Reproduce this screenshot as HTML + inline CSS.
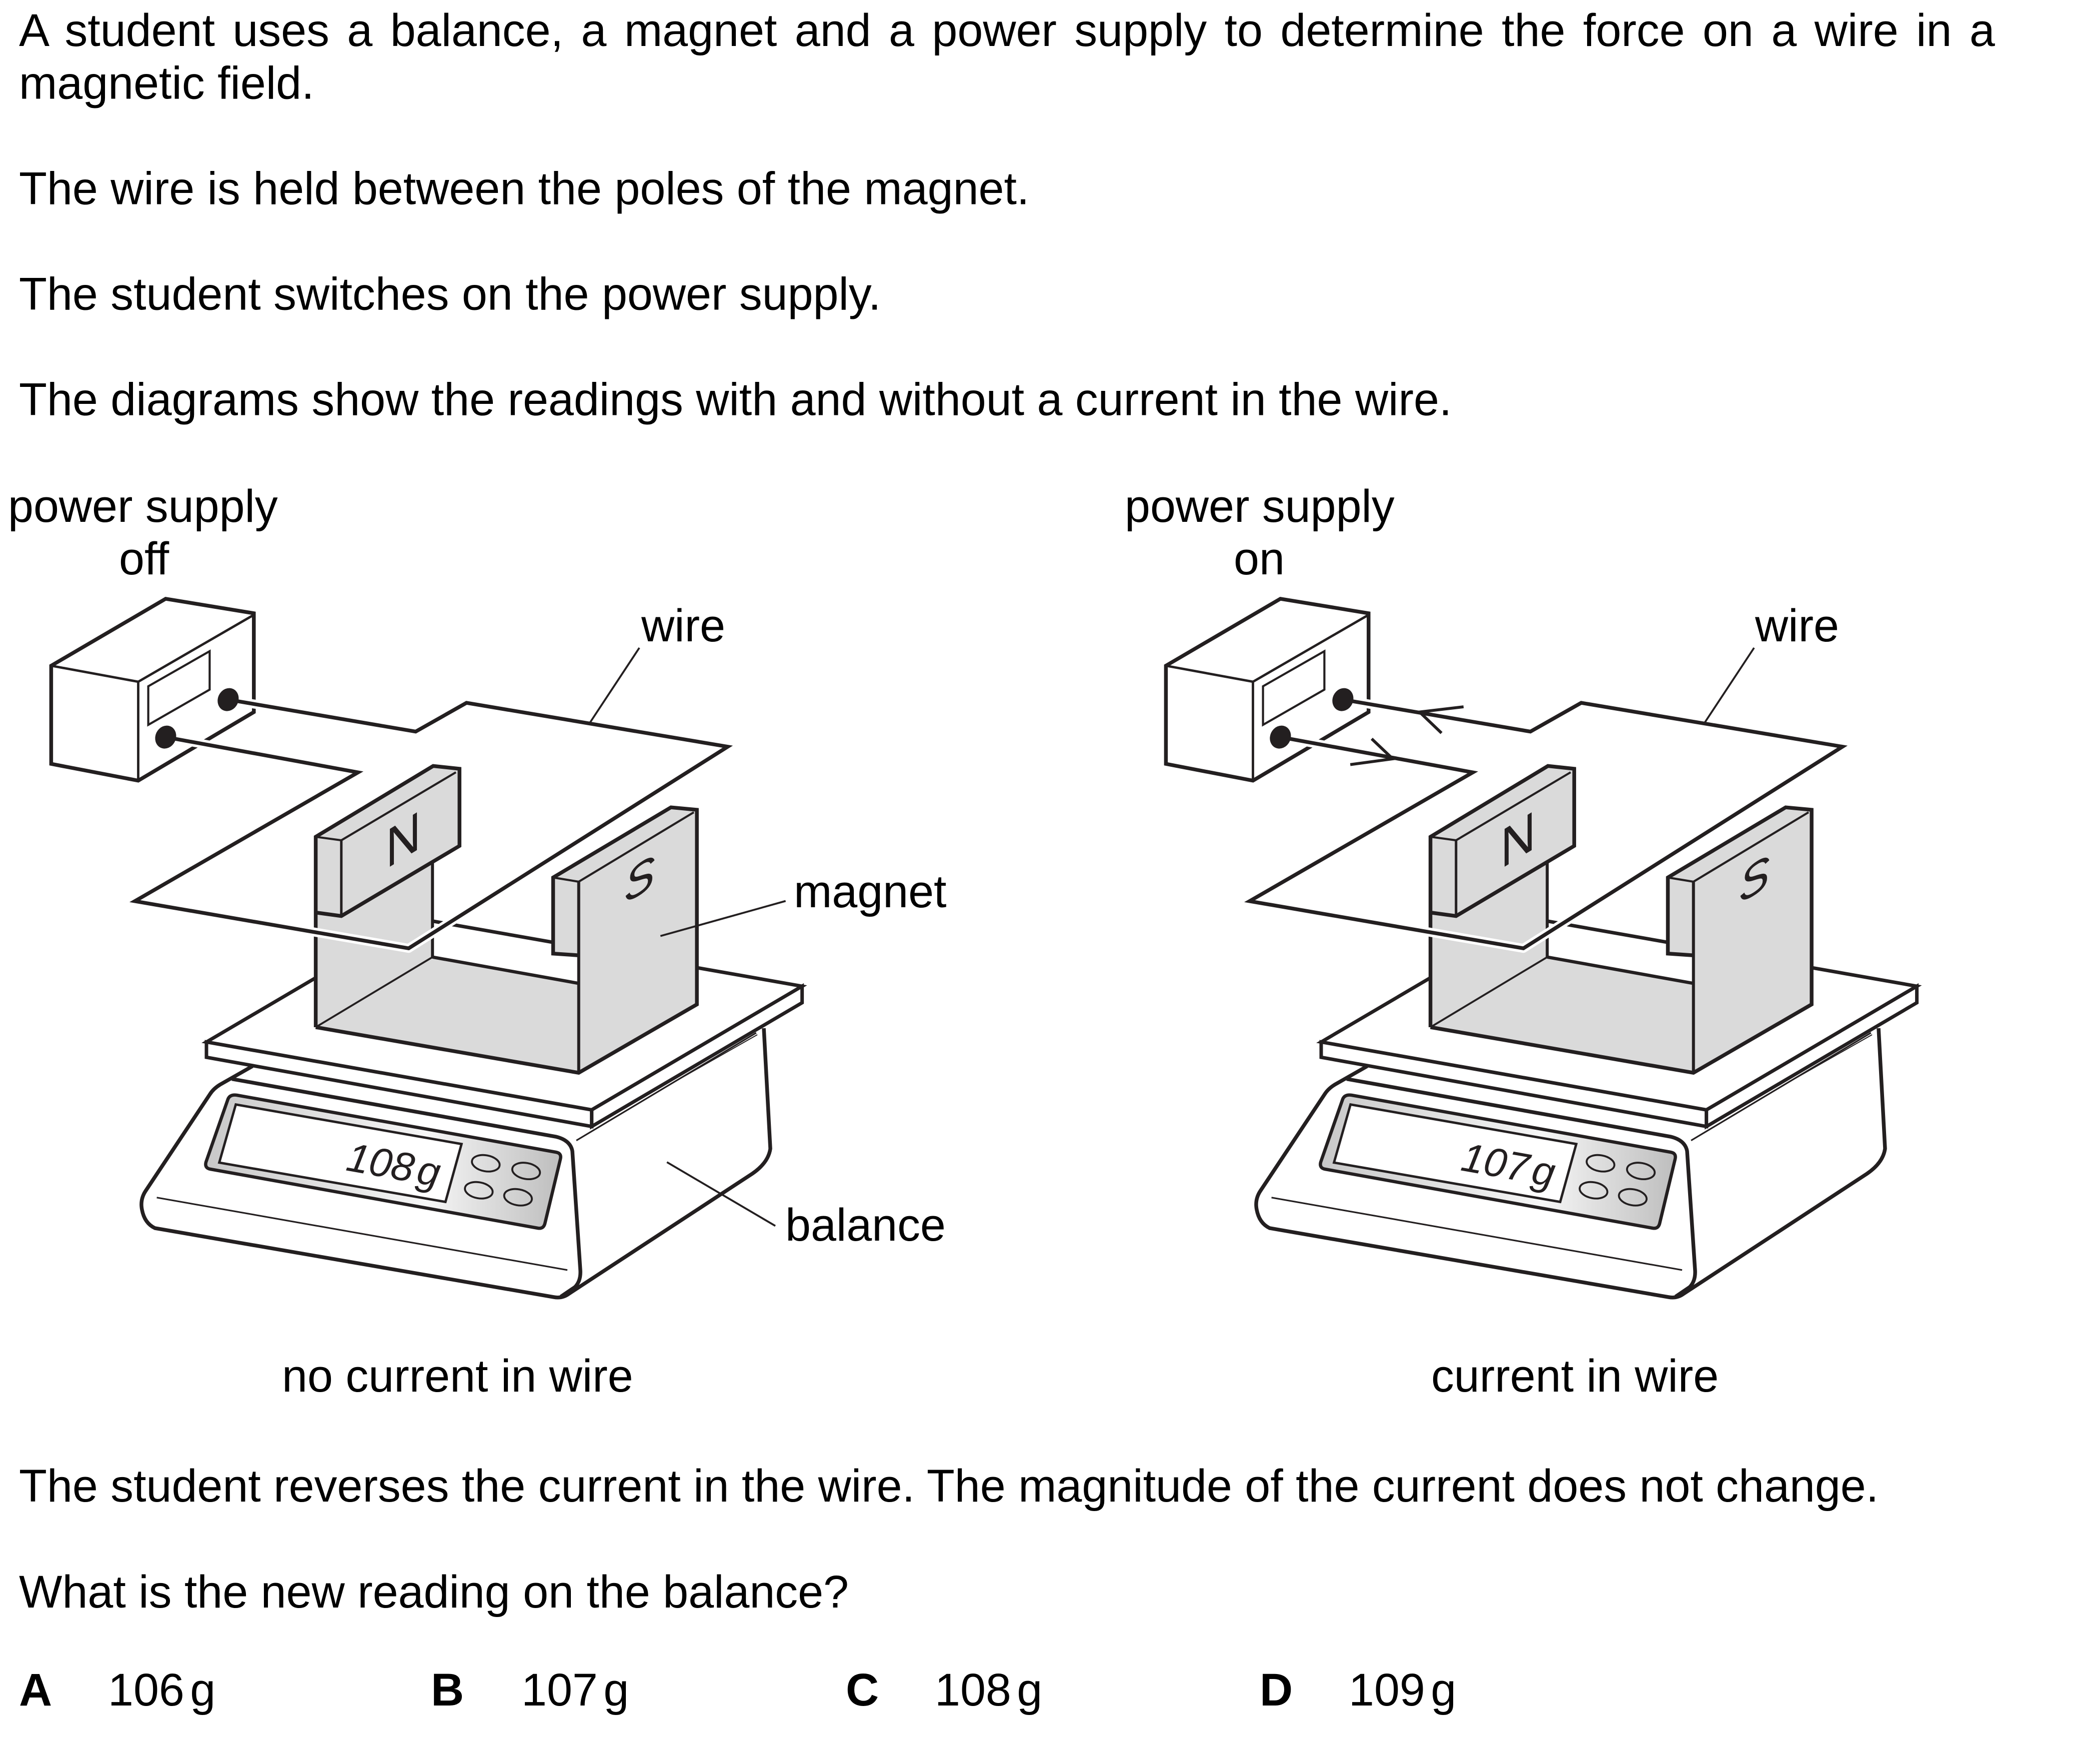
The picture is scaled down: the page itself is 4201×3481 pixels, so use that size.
<!DOCTYPE html>
<html><head><meta charset="utf-8">
<style>
html,body{margin:0;padding:0;background:#fff;}
svg{display:block;}
text{font-family:"Liberation Sans",Arial,sans-serif;fill:#000;}
</style></head>
<body>
<svg xmlns="http://www.w3.org/2000/svg" xmlns:xlink="http://www.w3.org/1999/xlink" width="4201" height="3481" viewBox="0 0 4201 3481">
<rect x="0" y="0" width="4201" height="3481" fill="#fff"/>
<defs>
<linearGradient id="pg" gradientUnits="userSpaceOnUse" x1="410" y1="0" x2="1125" y2="0">
<stop offset="0" stop-color="#c8c8c8"/>
<stop offset="0.62" stop-color="#f6f6f6"/>
<stop offset="1" stop-color="#bdbdbd"/>
</linearGradient>
<g id="diag" fill="none" stroke="#231f20" stroke-linejoin="miter" stroke-linecap="butt">
 <!-- balance body -->
 <path d="M505,2133 L440,2170 Q427,2178 420,2189 L291,2383 Q280,2400 284,2420 Q289,2447 310,2457 L1108,2595 Q1124,2598 1137,2589 L1505,2348 Q1537,2326 1541,2298 L1528,2057" stroke-width="7.5"/>
 <path d="M464,2158.6 L1112,2274 Q1141,2281 1145,2303 L1161,2542 Q1162,2563 1150,2575 L1122,2594" stroke-width="7.5"/>
 <line x1="313.6" y1="2395.8" x2="1135" y2="2540.8" stroke-width="3.2"/>
 <line x1="1153" y1="2281.6" x2="1512.8" y2="2066.3" stroke-width="3.2"/>
 <line x1="1350" y1="2164" x2="1515" y2="2070" stroke-width="2"/>
 <!-- panel -->
 <path d="M474,2191 L1112,2305 Q1124,2307 1121,2319 L1090,2448 Q1087,2459 1076,2457 L421,2339 Q409,2337 412,2325 L456,2199 Q460,2189 474,2191 Z" fill="url(#pg)" stroke-width="6.5"/>
 <polygon points="471.7,2209.6 923.3,2288.7 891.1,2404.5 438.6,2325.9" fill="#fff" stroke-width="4.8"/>
 <ellipse cx="971.8" cy="2327.2" rx="28" ry="16" transform="rotate(10 971.8 2327.2)" stroke-width="3.8"/>
 <ellipse cx="1052.5" cy="2342.6" rx="28" ry="16" transform="rotate(10 1052.5 2342.6)" stroke-width="3.8"/>
 <ellipse cx="957.8" cy="2381.2" rx="28" ry="16" transform="rotate(10 957.8 2381.2)" stroke-width="3.8"/>
 <ellipse cx="1036.3" cy="2395.2" rx="28" ry="16" transform="rotate(10 1036.3 2395.2)" stroke-width="3.8"/>
 <!-- platform -->
 <polygon points="413,2084.6 833.9,1837.2 1604.6,1973 1183.7,2220.4" fill="#fff" stroke-width="7"/>
 <polygon points="413,2084.6 1183.7,2220.4 1183.7,2253.6 413,2115.2" fill="#fff" stroke-width="7"/>
 <polygon points="1183.7,2220.4 1604.6,1973 1604.6,2006 1183.7,2253.6" fill="#fff" stroke-width="7"/>
 <!-- magnet -->
 <polygon points="631.6,1674.1 866.6,1532.4 919.2,1538 919.2,1692.3 865.2,1724.3 865.2,1914.7 1157.7,1967.3 1157.7,2146.2 631.6,2055" fill="#dadada" stroke="none"/>
 <polygon points="1106.5,1755.5 1342.2,1615.2 1394.1,1620.1 1394.1,2009.4 1157.7,2146.2 1157.7,1911.2 1106.5,1907.7" fill="#dadada" stroke="none"/>
 <polyline points="631.6,2055 631.6,1674.1 866.6,1532.4 919.2,1538 919.2,1692.3 682.8,1832.6 631.6,1825.6" stroke-width="7.5"/>
 <line x1="682.8" y1="1681.1" x2="682.8" y2="1832.6" stroke-width="5"/>
 <polyline points="631.6,1674.1 682.8,1681.1 912,1545" stroke-width="4.2"/>
 <line x1="865.2" y1="1724.3" x2="865.2" y2="1914.7" stroke-width="6"/>
 <line x1="631.6" y1="2055" x2="865.2" y2="1914.7" stroke-width="3.8"/>
 <line x1="865.2" y1="1914.7" x2="1157.7" y2="1967.3" stroke-width="6.5"/>
 <polyline points="631.6,2055 1157.7,2146.2 1394.1,2009.4 1394.1,1620.1 1342.2,1615.2 1106.5,1755.5 1106.5,1907.7 1157.7,1911.2" stroke-width="7.5"/>
 <line x1="1157.7" y1="1763.9" x2="1157.7" y2="2146.2" stroke-width="6"/>
 <polyline points="1106.5,1755.5 1157.7,1763.9 1388,1625" stroke-width="4.2"/>
 <!-- power supply box -->
 <polygon points="102.4,1331.8 331.4,1197.9 507.8,1226.9 507.8,1424.6 276.5,1561.7 102.4,1528.2" fill="#fff" stroke-width="7.5"/>
 <polyline points="102.4,1331.8 276.5,1363.9 507.8,1230" stroke-width="4.8"/>
 <line x1="276.5" y1="1363.9" x2="276.5" y2="1561.7" stroke-width="4.8"/>
 <polygon points="296.6,1372.9 419.4,1302.8 419.4,1379.6 296.6,1450.1" stroke-width="4.2"/>
 <!-- wire -->
 <polyline points="456.4,1399.6 831.5,1463.6 933.2,1406.1 1455.8,1493.8 817.5,1897.2 269.8,1802.8 716.3,1545.2 331.4,1474.6" stroke="#fff" stroke-width="18" stroke-linejoin="round"/>
 <polyline points="456.4,1399.6 831.5,1463.6 933.2,1406.1 1455.8,1493.8 817.5,1897.2 269.8,1802.8 716.3,1545.2 331.4,1474.6" stroke-width="7.5"/>
 <ellipse cx="456.4" cy="1399.6" rx="20.5" ry="23.5" transform="rotate(25 456.4 1399.6)" fill="#231f20" stroke="none"/>
 <ellipse cx="331.4" cy="1474.6" rx="20.5" ry="23.5" transform="rotate(25 331.4 1474.6)" fill="#231f20" stroke="none"/>
 <!-- wire leader -->
 <line x1="1279" y1="1296" x2="1180" y2="1446" stroke-width="3.8"/>
</g>
</defs>

<use href="#diag" xlink:href="#diag"/>
<use href="#diag" xlink:href="#diag" transform="translate(2230,0)"/>

<!-- leaders left only -->
<g stroke="#231f20" stroke-width="3.8" fill="none">
 <line x1="1571.6" y1="1802.5" x2="1321.2" y2="1872.6"/>
 <line x1="1334.2" y1="2325" x2="1551" y2="2452.5"/>
</g>

<!-- current arrows right diagram -->
<g stroke="#231f20" stroke-width="5.8" fill="none" stroke-linecap="butt" stroke-linejoin="miter">
 <polyline points="2927.8,1414 2839.7,1424.4 2883.7,1466.5"/>
 <polyline points="2701.2,1529.6 2786.2,1518.1 2744,1478"/>
</g>

<!-- magnet letters -->
<text transform="translate(779,1734.5) skewY(-31.5) scale(0.88,1)" x="-8" y="0" font-size="110" style="fill:#231f20">N</text>
<text transform="translate(3009,1734.5) skewY(-31.5) scale(0.88,1)" x="-8" y="0" font-size="110" style="fill:#231f20">N</text>
<text transform="translate(1249,1809) skewY(-31.5)" font-size="92" font-style="italic" style="fill:#231f20">S</text>
<text transform="translate(3479,1809) skewY(-31.5)" font-size="92" font-style="italic" style="fill:#231f20">S</text>

<!-- readings -->
<text transform="translate(690,2341) rotate(10.2)" font-size="81" font-style="italic" style="fill:#231f20">108<tspan dx="8">g</tspan></text>
<text transform="translate(2920,2341) rotate(10.2)" font-size="81" font-style="italic" style="fill:#231f20">107<tspan dx="8">g</tspan></text>

<!-- main text -->
<g font-size="91.6">
<text x="38" y="92" word-spacing="10">A student uses a balance, a magnet and a power supply to determine the force on a wire in a</text>
<text x="38" y="197.5">magnetic field.</text>
<text x="38" y="408.5">The wire is held between the poles of the magnet.</text>
<text x="38" y="619.5">The student switches on the power supply.</text>
<text x="38" y="830.5">The diagrams show the readings with and without a current in the wire.</text>

<text x="16" y="1044">power supply</text>
<text x="238" y="1149">off</text>
<text x="2250" y="1044">power supply</text>
<text x="2468" y="1149">on</text>
<text x="1283" y="1283">wire</text>
<text x="3511" y="1283">wire</text>
<text x="1588" y="1815">magnet</text>
<text x="1571" y="2482">balance</text>
<text x="564" y="2784">no current in wire</text>
<text x="2863" y="2784">current in wire</text>

<text x="38" y="3004">The student reverses the current in the wire. The magnitude of the current does not change.</text>
<text x="38" y="3216">What is the new reading on the balance?</text>

<text x="38" y="3412" font-weight="bold">A</text>
<text x="216" y="3412" word-spacing="-14">106 g</text>
<text x="862" y="3412" font-weight="bold">B</text>
<text x="1043" y="3412" word-spacing="-14">107 g</text>
<text x="1692" y="3412" font-weight="bold">C</text>
<text x="1870" y="3412" word-spacing="-14">108 g</text>
<text x="2520" y="3412" font-weight="bold">D</text>
<text x="2698" y="3412" word-spacing="-14">109 g</text>
</g>
</svg>
</body></html>
